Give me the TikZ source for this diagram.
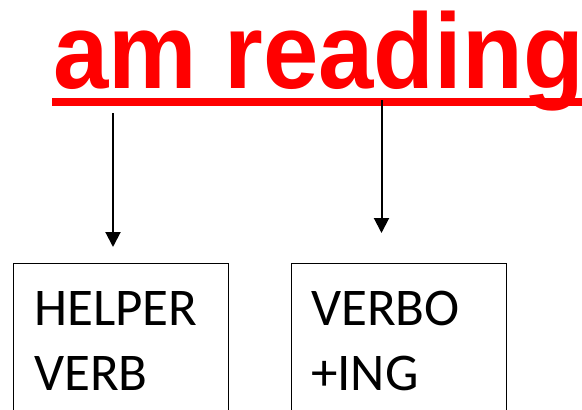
\documentclass[tikz,border=0pt]{standalone}
\usepackage{fontspec}
\setmainfont{Carlito}
\newfontfamily\titlefont{Liberation Sans}[BoldFont={* Bold}]
\usetikzlibrary{arrows.meta}
\definecolor{titlered}{RGB}{255,0,0}
\tikzset{
  x=1pt, y=1pt,
  boxnode/.style={draw=black, line width=1.3pt, minimum width=215pt, minimum height=180pt, inner sep=0pt, anchor=north west},
  boxtext/.style={inner sep=0pt, anchor=north west, align=left, font=\fontsize{53}{65}\selectfont},
  arr/.style={line width=2pt, -{Triangle[length=15pt, width=15pt]}}
}
\begin{document}
\begin{tikzpicture}
\useasboundingbox (0,0) rectangle (582,-410);
% title
\node[inner sep=0pt, anchor=base west, text=titlered] (title) at (53,-88)
  {\titlefont\bfseries\fontsize{107}{110}\selectfont\scalebox{0.93}[1]{am reading}};
\coordinate (ulL) at (52,-102);
\coordinate (ulR) at (590,-102);
\draw[titlered, line width=8.5pt] (ulL) -- (ulR);
% boxes
\node[boxnode] (box1) at (13,-263) {};
\node[boxnode] (box2) at (291,-263) {};
\node[boxtext] (t1) at (34,-291) {HELPER\\VERB};
\node[boxtext] (t2) at (311,-291) {VERBO\\+ING};
% arrows
\coordinate (a1s) at (113,-113);
\coordinate (a1e) at (113,-247);
\coordinate (a2s) at (381.5,-100);
\coordinate (a2e) at (381.5,-233);
\draw[arr] (a1s) -- (a1e);
\draw[arr] (a2s) -- (a2e);
\end{tikzpicture}
\end{document}
